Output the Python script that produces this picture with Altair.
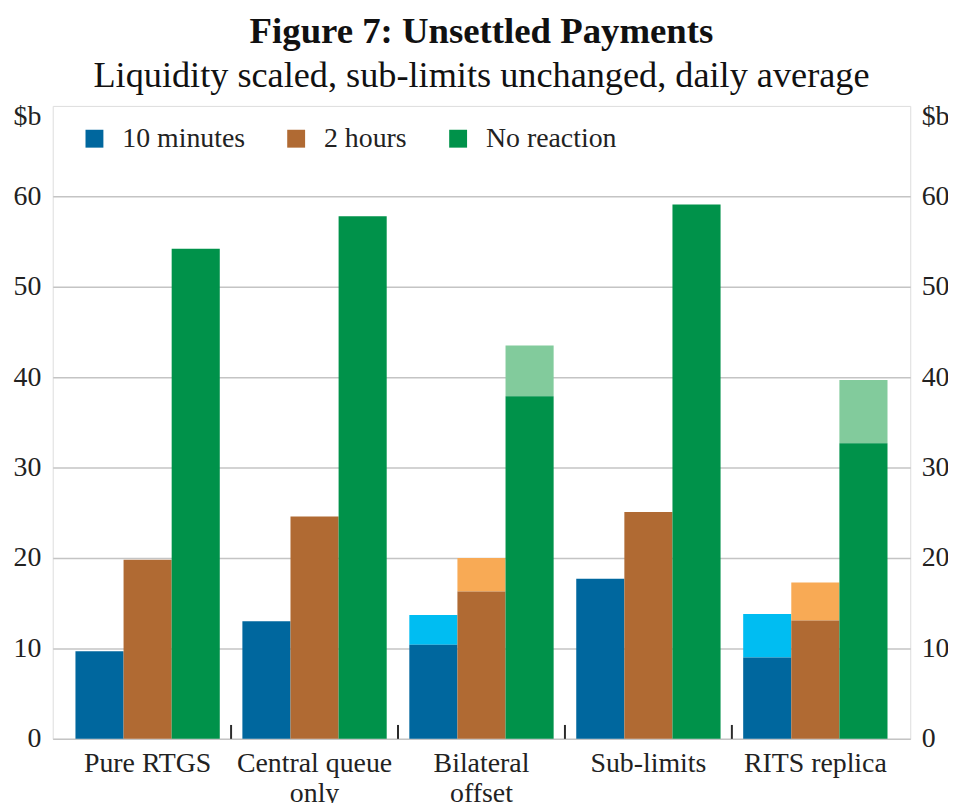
import altair as alt
import pandas as pd

categories = ["Pure RTGS", "Central queue only", "Bilateral offset", "Sub-limits", "RITS replica"]
label_lines = {"Central queue only": ["Central queue", "only"], "Bilateral offset": ["Bilateral", "offset"]}
series = ["10 minutes", "2 hours", "No reaction"]

# dark (main) bar values, $b
base_10min = [9.7, 13.0, 10.4, 17.7, 9.0]
base_2h = [19.8, 24.6, 16.3, 25.1, 13.1]
base_none = [54.2, 57.8, 37.9, 59.1, 32.7]
# lighter extension tops (only for some categories)
top_10min = [None, None, 13.7, None, 13.8]
top_2h = [None, None, 20.0, None, 17.3]
top_none = [None, None, 43.5, None, 39.7]

dark_colors = ["#00679E", "#B06A33", "#00924A"]
light_colors = ["#00BDF2", "#F8AA55", "#82CB9C"]
FONT = "Liberation Serif"
TXT = "#222222"

rows = []
for s, bases, tops in zip(series, [base_10min, base_2h, base_none], [top_10min, top_2h, top_none]):
    for c, b, t in zip(categories, bases, tops):
        rows.append({"cat": c, "series": s, "base": b, "top": t})
df = pd.DataFrame(rows)
df_light = df.dropna(subset=["top"])
df_ticks = pd.DataFrame({"cat": categories[1:]})

expr = "datum.value"
for k, v in label_lines.items():
    expr = f"datum.value == '{k}' ? {v!r} : ({expr})"

x_axis = alt.Axis(title=None, labelAngle=0, ticks=False, domain=False, labelFont=FONT,
                  labelFontSize=28, labelColor=TXT, labelPadding=11, labelLineHeight=30,
                  labelExpr=expr)
x_enc = alt.X("cat:N", scale=alt.Scale(domain=categories, paddingInner=0, paddingOuter=0.0685), axis=x_axis)
xoff = alt.XOffset("series:N", scale=alt.Scale(domain=series, paddingInner=0, paddingOuter=0.235))
yscale = alt.Scale(domain=[0, 70], nice=False)

left_axis = alt.Axis(values=[0, 10, 20, 30, 40, 50, 60], grid=True, gridColor="#C4C4C4", gridWidth=1.5,
                     ticks=False, domain=False, labelFont=FONT, labelFontSize=28, labelColor=TXT,
                     labelPadding=12, title="$b", titleAngle=0, titleAlign="right", titleBaseline="alphabetic",
                     titleX=-12, titleY=19, titleFont=FONT, titleFontSize=28, titleFontWeight="normal",
                     titleColor=TXT)
right_axis = alt.Axis(orient="right", values=[0, 10, 20, 30, 40, 50, 60], grid=False,
                      ticks=False, domain=False, labelFont=FONT, labelFontSize=28, labelColor=TXT,
                      labelPadding=11, title="$b", titleAngle=0, titleAlign="left", titleBaseline="alphabetic",
                      titleX=11, titleY=19, titleFont=FONT, titleFontSize=28, titleFontWeight="normal",
                      titleColor=TXT)

light = alt.Chart(df_light).mark_bar().encode(
    x=x_enc, xOffset=xoff,
    y=alt.Y("top:Q", scale=yscale, axis=left_axis),
    y2=alt.Y2("base:Q"),
    color=alt.Color("series:N", scale=alt.Scale(domain=series, range=light_colors), legend=None),
)

dark = alt.Chart(df).mark_bar().encode(
    x=x_enc, xOffset=xoff,
    y=alt.Y("base:Q", scale=yscale, axis=right_axis),
    color=alt.Color("series:N", scale=alt.Scale(domain=series, range=dark_colors),
                    legend=alt.Legend(orient="none", legendX=28, legendY=19, direction="horizontal",
                                      title=None, symbolType="square", symbolSize=324, symbolStrokeWidth=0,
                                      symbolOpacity=1, labelFont=FONT, labelFontSize=28, labelColor=TXT,
                                      labelOffset=14, columnPadding=37, padding=0)),
)

ticks = alt.Chart(df_ticks).mark_rule(color="#2b2b2b", strokeWidth=2).encode(
    x=alt.X("cat:N", bandPosition=0, scale=alt.Scale(domain=categories, paddingInner=0, paddingOuter=0.0685), axis=x_axis),
    y=alt.value(623),
    y2=alt.value(637),
)

chart = alt.layer(light, dark, ticks).resolve_scale(
    color="independent", y="independent"
).resolve_axis(y="independent").properties(
    width=863, height=637,
    autosize=alt.AutoSizeParams(type="none"),
    padding={"left": 45, "top": 96, "right": 38, "bottom": 62},
    title=alt.TitleParams(text="Figure 7: Unsettled Payments",
                          subtitle="Liquidity scaled, sub-limits unchanged, daily average",
                          font=FONT, fontSize=37, fontWeight="bold", color="#111111",
                          subtitleFont=FONT, subtitleFontSize=36.5, subtitleColor="#111111",
                          subtitleFontWeight="normal", anchor="middle", offset=8, subtitlePadding=7),
).configure_view(stroke="#2b2b2b", strokeWidth=2).configure(background="white")

chart.save("out.html", embed_options={"renderer": "svg", "actions": False})
